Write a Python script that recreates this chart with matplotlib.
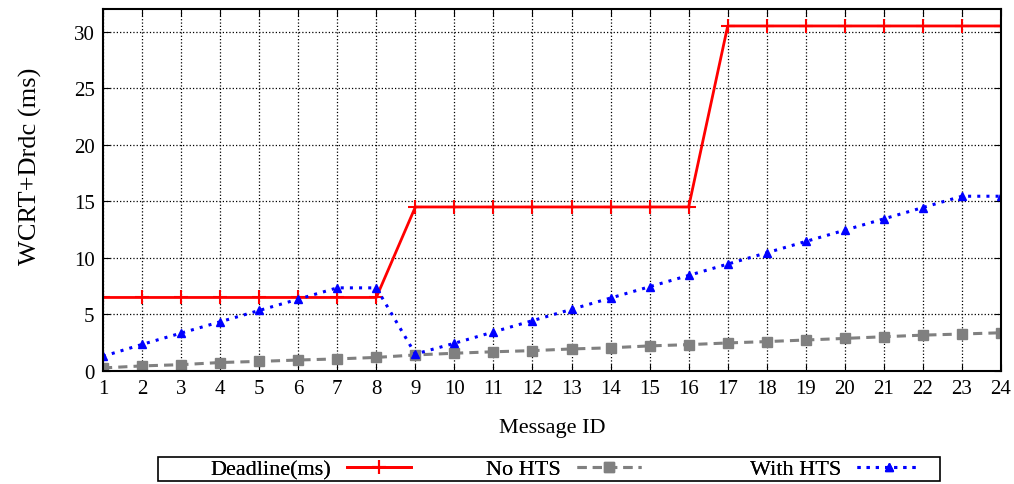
import matplotlib.pyplot as plt
from matplotlib.patches import Rectangle

plt.rcParams['font.family'] = ['Liberation Serif', 'DejaVu Serif']

msg_id = list(range(1, 25))
deadline = [6.5] * 8 + [14.5] * 8 + [30.5] * 8
no_hts = [0.27, 0.45, 0.56, 0.75, 0.85, 0.97, 1.07, 1.2, 1.42, 1.57,
          1.7, 1.8, 1.95, 2.05, 2.22, 2.33, 2.48, 2.6, 2.74, 2.88,
          3.03, 3.17, 3.27, 3.38]
with_hts = [1.3, 2.35, 3.35, 4.35, 5.35, 6.35, 7.35, 7.35, 1.5, 2.45,
            3.45, 4.45, 5.45, 6.45, 7.45, 8.45, 9.45, 10.45, 11.45, 12.45,
            13.45, 14.45, 15.45, 15.45]

W, H = 1014, 485
fig = plt.figure(figsize=(W / 100, H / 100), dpi=100)
ax = fig.add_axes([103 / W, 1 - 372 / H, (1001 - 103) / W, (372 - 10) / H])

l1, = ax.plot(msg_id, deadline, color='red', lw=2, marker='+', ms=10, mew=1.5,
              label='Deadline(ms)')
l2, = ax.plot(msg_id, no_hts, color='gray', lw=2.2, ls=(0, (3, 2)), marker='s',
              ms=7, label='No HTS')
l3, = ax.plot(msg_id, with_hts, color='blue', lw=2.2, ls=(0, (1, 2)), marker='^',
              ms=6, label='With HTS')

ax.set_xlim(1, 24)
ax.set_ylim(0, 32)
ax.set_xticks(msg_id)
ax.set_yticks(range(0, 31, 5))
ax.grid(True, color='black', ls=':', lw=0.9)
ax.tick_params(direction='in', top=True, right=True, labelsize=15, length=5, pad=6)
for s in ax.spines.values():
    s.set_linewidth(1.5)

ax.set_xlabel('Message ID', fontsize=16, va='center')
ax.xaxis.set_label_coords(0.5, -(429 - 372) / 362)
ax.set_ylabel('WCRT+Drdc (ms)', fontsize=19, va='center')
ax.yaxis.set_label_coords(-(103 - 30) / 898, (372 - 166) / 362)

# legend box with right-aligned entries, one legend per entry
fig.add_artist(Rectangle((158 / W, 1 - 482 / H), (940 - 158) / W, 24 / H,
                         transform=fig.transFigure, fill=False,
                         edgecolor='black', lw=1.2))
for line, x_right in [(l1, 411), (l2, 641), (l3, 921)]:
    lg = fig.legend(handles=[line], loc='center right',
                    bbox_to_anchor=(x_right / W, 1 - 470 / H),
                    markerfirst=False, fontsize=16, frameon=False,
                    handlelength=2.9, handletextpad=0.7,
                    borderpad=0, borderaxespad=0)
    fig.add_artist(lg)

fig.savefig('out.png', dpi=100)
